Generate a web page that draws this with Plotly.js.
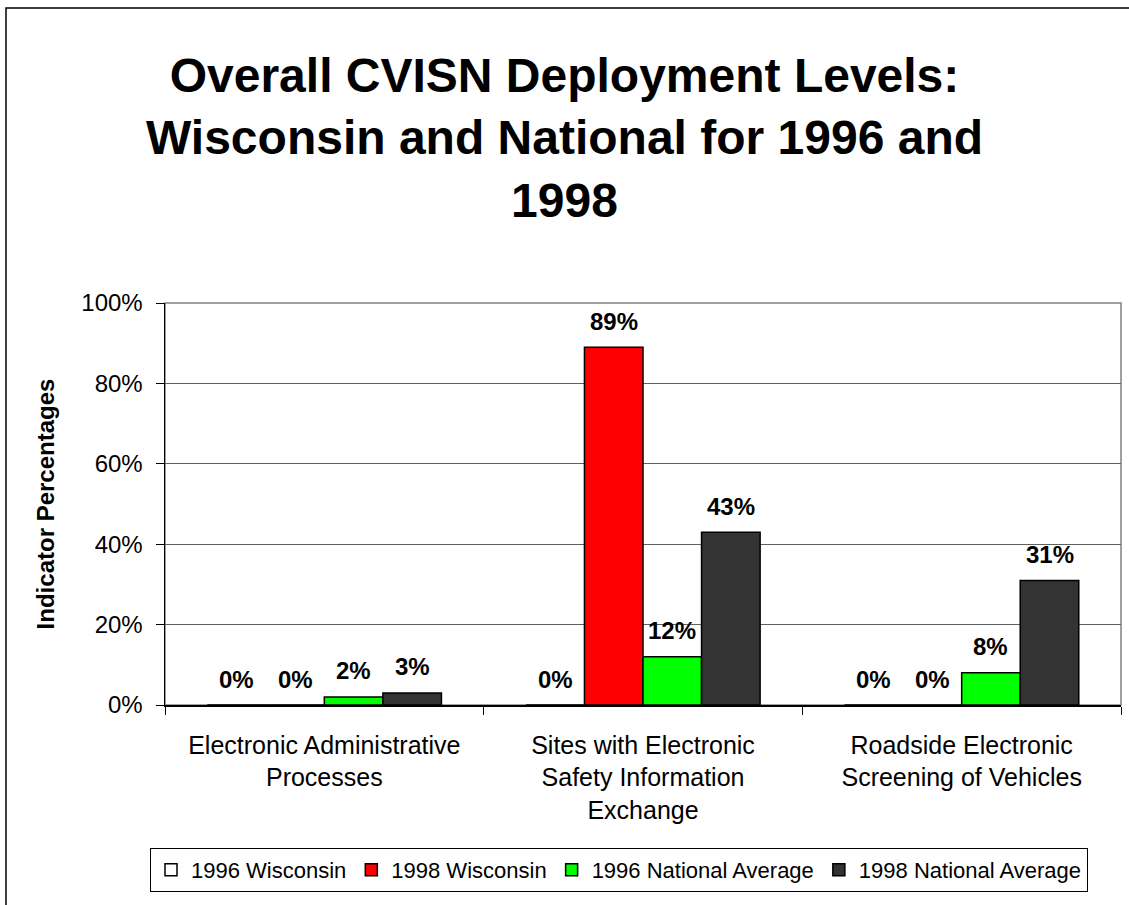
<!DOCTYPE html>
<html>
<head>
<meta charset="utf-8">
<script src="https://cdn.plot.ly/plotly-3.0.1.min.js"></script>
<style>
  html, body { margin: 0; padding: 0; background: #fff; }
  #chart { width: 1129px; height: 905px; }
</style>
</head>
<body>
<div id="chart"></div>
<script>
// ---- data ----
const categories = [
  "Electronic Administrative<br>Processes",
  "Sites with Electronic<br>Safety Information<br>Exchange",
  "Roadside Electronic<br>Screening of Vehicles"
];
const seriesNames = ["1996 Wisconsin", "1998 Wisconsin", "1996 National Average", "1998 National Average"];
const wisconsin1996 = [0, 0, 0];
const wisconsin1998 = [0, 89, 0];
const national1996 = [2, 12, 8];
const national1998 = [3, 43, 31];
const seriesValues = [wisconsin1996, wisconsin1998, national1996, national1998];
const seriesColors = ["#FFFFFF", "#FF0000", "#00FF00", "#333333"];
const yTickVals = [0, 20, 40, 60, 80, 100];
const yTickText = ["0%", "20%", "40%", "60%", "80%", "100%"];

const FONT = "Arial, 'Liberation Sans', sans-serif";
const bargap = 0.265;
const nSeries = seriesValues.length;
const barW = (1 - bargap) / nSeries;

const traces = seriesValues.map((vals, j) => ({
  type: "bar",
  name: seriesNames[j],
  x: categories,
  y: vals,
  marker: { color: seriesColors[j], line: { color: "#000000", width: 1.5 } },
  hoverinfo: "none"
}));

const annotations = [];
seriesValues.forEach((vals, j) => {
  vals.forEach((v, i) => {
    annotations.push({
      x: i + (j - (nSeries - 1) / 2) * barW,
      y: v,
      xref: "x", yref: "y",
      text: "<b>" + v + "%</b>",
      showarrow: false,
      yanchor: "middle",
      yshift: 26,
      font: { family: FONT, size: 24, color: "#000" }
    });
  });
});

const layout = {
  width: 1129, height: 905,
  margin: { l: 165, r: 8, t: 303, b: 200 },
  paper_bgcolor: "#fff",
  plot_bgcolor: "#fff",
  font: { family: FONT, color: "#000" },
  barmode: "group",
  bargap: bargap,
  bargroupgap: 0,
  title: {
    text: "<b>Overall CVISN Deployment Levels:<br>Wisconsin and National for 1996 and<br>1998</b>",
    font: { family: FONT, size: 48, color: "#000" },
    x: 0.5, xref: "container", xanchor: "center",
    y: 1 - 92 / 905, yref: "container", yanchor: "top"
  },
  xaxis: {
    type: "category",
    tickson: "boundaries",
    ticks: "outside", ticklen: 8, tickcolor: "#000", tickwidth: 1,
    showline: true, linecolor: "#000", linewidth: 1.5,
    showgrid: false, zeroline: false,
    tickfont: { family: FONT, size: 25, color: "#000" },
    ticklabelstandoff: 17,
    automargin: false,
    fixedrange: true
  },
  yaxis: {
    range: [0, 100],
    tickvals: yTickVals, ticktext: yTickText,
    ticks: "outside", ticklen: 8, tickcolor: "#000", tickwidth: 1,
    showline: true, linecolor: "#000", linewidth: 1.5,
    showgrid: true, gridcolor: "#606060", gridwidth: 1,
    zeroline: false,
    tickfont: { family: FONT, size: 24, color: "#000" },
    ticklabelstandoff: 8,
    title: { text: "<b>Indicator Percentages</b>", font: { family: FONT, size: 24, color: "#000" }, standoff: 20 },
    automargin: false,
    fixedrange: true
  },
  showlegend: true,
  legend: {
    orientation: "h",
    xref: "container", yref: "container",
    x: 619 / 1129, xanchor: "center",
    y: 1 - 848 / 905, yanchor: "top",
    bordercolor: "#000", borderwidth: 1,
    font: { family: FONT, size: 22, color: "#000" },
    itemwidth: 30,
    tracegroupgap: 0,
    traceorder: "normal"
  },
  annotations: annotations,
  shapes: [
    { type: "rect", xref: "paper", yref: "paper", x0: 0, x1: 1, y0: 0, y1: 1,
      line: { color: "#808080", width: 1.5 }, layer: "below" },
    { type: "rect", xref: "paper", yref: "paper",
      x0: (6 - 165) / 956, x1: (1140 - 165) / 956,
      y0: (705 - 920) / 402, y1: (705 - 8) / 402,
      line: { color: "#000", width: 1.5 }, layer: "below" }
  ]
};

Plotly.newPlot("chart", traces, layout, { displayModeBar: false, staticPlot: true });
</script>
</body>
</html>
